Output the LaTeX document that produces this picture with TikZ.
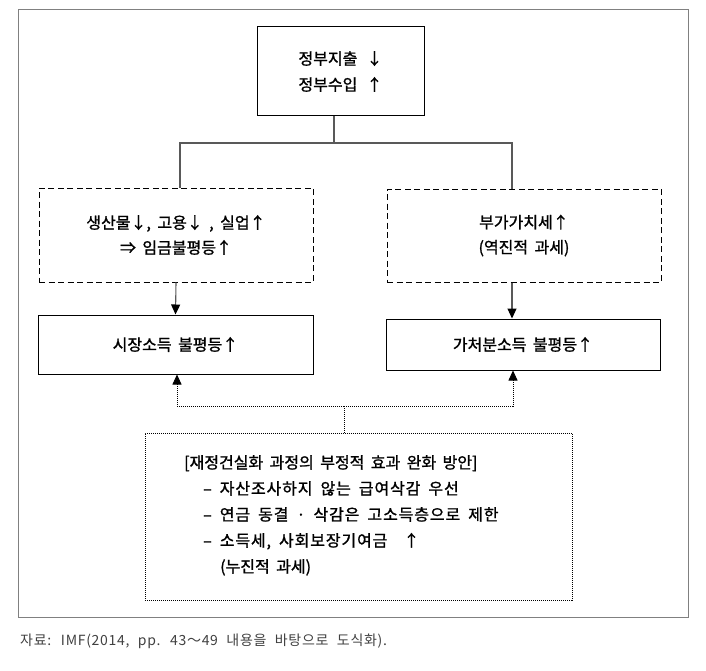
\documentclass[tikz,border=0pt]{standalone}
\usepackage{fontspec}
\setmainfont{Noto Sans CJK KR}
\newfontfamily\krb{Noto Sans CJK KR}[FakeBold=1.2, WordSpace=1.8]
\newfontfamily\krbs{Noto Sans CJK KR}[FakeBold=1.2, WordSpace=1.8, LetterSpace=5.5]
\newfontfamily\krcap{Noto Sans CJK KR}[WordSpace=2.2, LetterSpace=5]
\usetikzlibrary{arrows.meta,calc}
\tikzset{
  frame/.style={draw=black!50, line width=0.9pt},
  solidbox/.style={draw=black, line width=1pt, inner sep=0pt, align=center, font=\krb\fontsize{16}{26}\selectfont},
  dashbox/.style={draw=black, line width=1pt, dash pattern=on 6pt off 3.5pt, inner sep=0pt, align=center, font=\krb\fontsize{16}{25}\selectfont},
  dotbox/.style={draw=black, line width=0.8pt, dash pattern=on 1pt off 1pt, inner sep=0pt},
  conn/.style={draw=black!65, line width=1.3pt},
  arr/.style={draw=black!65, line width=1.1pt, -{Triangle[length=10pt,width=9pt,black]}},
  dotarr/.style={draw=black, line width=0.8pt, dash pattern=on 1pt off 1pt, -{Triangle[length=10pt,width=9pt,black]}},
  dotline/.style={draw=black, line width=0.8pt, dash pattern=on 1pt off 1pt},
}
\begin{document}
\begin{tikzpicture}[x=1pt,y=-1pt]
\useasboundingbox (0,0) rectangle (706,671);
\draw[frame] (18,9) rectangle (688,617);

\node[solidbox, minimum width=167pt, minimum height=89pt] (top) at (340.5,71.5) {정부지출 \,↓\\정부수입 \,↑};
\node[dashbox, minimum width=274pt, minimum height=94pt] (ldash) at (176,235) {생산물↓, 고용↓ , 실업↑\\⇒ 임금불평등↑};
\node[dashbox, minimum width=274pt, minimum height=93pt] (rdash) at (524,235.5) {부가가치세↑\\(역진적 과세)};
\node[solidbox, minimum width=275pt, minimum height=59pt] (lsol) at (175.5,344.5) {시장소득 불평등↑};
\node[solidbox, minimum width=274pt, minimum height=51pt] (rsol) at (523,344.5) {가처분소득 불평등↑};
\node[dotbox, minimum width=427pt, minimum height=167pt] (bot) at (358.5,516.5) {};
\node[anchor=north west, inner sep=0pt, align=left, font=\krb\fontsize{16}{26}\selectfont] (bottxt) at (184,455)
  {[재정건실화 과정의 부정적 효과 완화 방안]\\
   \hspace*{19pt}{\krbs – 자산조사하지 않는 급여삭감 우선}\\
   \hspace*{19pt}{\krbs – 연금 동결 · 삭감은 고소득층으로 제한}\\
   \hspace*{19pt}{\krbs – 소득세, 사회보장기여금 \ ↑}\\
   \hspace*{36pt}(누진적 과세)};

\node[anchor=west, inner sep=0pt, font=\krcap\fontsize{14}{16}\selectfont, text=black!75] (cap) at (20,641)
  {자료: IMF(2014, pp. 43～49 내용을 바탕으로 도식화).};

\coordinate (tj) at (334,143);
\coordinate (lj) at (180,143);
\coordinate (rj) at (512,143);
\draw[conn] (top.south -| tj) -- (tj);
\draw[conn] (ldash.north -| lj) -- (lj) -- (rj) -- (rdash.north -| rj);

\coordinate (ra) at (512,0);
\draw[arr] (ldash.south) -- (lsol.north);
\draw[arr] (rdash.south -| ra) -- (rsol.north -| ra);

\coordinate (bj) at (344,406);
\coordinate (la) at (177,406);
\coordinate (rb) at (513,406);
\draw[dotline] (bot.north -| bj) -- (bj);
\draw[dotarr] (bj) -- (la) -- (lsol.south -| la);
\draw[dotarr] (bj) -- (rb) -- (rsol.south -| rb);
\end{tikzpicture}
\end{document}
